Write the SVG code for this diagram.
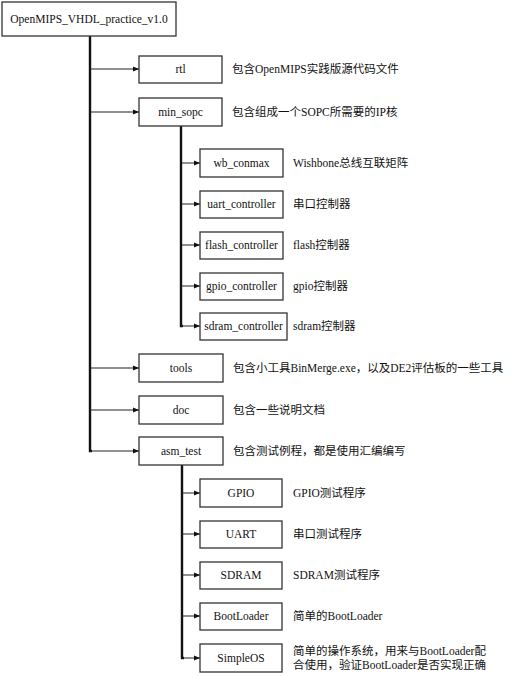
<svg xmlns="http://www.w3.org/2000/svg" width="518" height="676" viewBox="0 0 518 676">
<defs>
<marker id="ah" markerWidth="6" markerHeight="6" refX="6" refY="3" orient="auto" markerUnits="userSpaceOnUse">
<path d="M0,0.5 L6,3 L0,5.5 Z" fill="#111"/>
</marker>
<style>
.box{fill:#fff;stroke:#333;stroke-width:1.3}
.lbl{font-family:"Liberation Serif","Noto Sans CJK SC",serif;font-size:11.5px;fill:#111;text-anchor:middle}
.desc{font-family:"Liberation Serif","Noto Sans CJK SC",serif;font-size:11.5px;fill:#111}
.trunk{stroke:#111;stroke-width:2.4;fill:none}
.arr{stroke:#222;stroke-width:1;fill:none;marker-end:url(#ah)}
</style>
</defs>
<rect width="518" height="676" fill="#fff"/>
<g id="connectors">
<path class="trunk" d="M90,36 V451 H92"/>
<path class="trunk" d="M181,126 V326 H183"/>
<path class="trunk" d="M182,465 V658 H184"/>
<line class="arr" x1="90" y1="69" x2="139" y2="69"/>
<line class="arr" x1="90" y1="112" x2="139" y2="112"/>
<line class="arr" x1="90" y1="368" x2="139" y2="368"/>
<line class="arr" x1="90" y1="410" x2="139" y2="410"/>
<line class="arr" x1="90" y1="451" x2="139" y2="451"/>
<line class="arr" x1="181" y1="163" x2="200" y2="163"/>
<line class="arr" x1="181" y1="204" x2="200" y2="204"/>
<line class="arr" x1="181" y1="245" x2="200" y2="245"/>
<line class="arr" x1="181" y1="286" x2="200" y2="286"/>
<line class="arr" x1="181" y1="326" x2="200" y2="326"/>
<line class="arr" x1="182" y1="493" x2="200" y2="493"/>
<line class="arr" x1="182" y1="534" x2="200" y2="534"/>
<line class="arr" x1="182" y1="575" x2="200" y2="575"/>
<line class="arr" x1="182" y1="616" x2="200" y2="616"/>
<line class="arr" x1="182" y1="658" x2="200" y2="658"/>
</g>
<g id="root"><rect class="box" x="2" y="2" width="174" height="34"/><text class="lbl" x="89" y="23">OpenMIPS_VHDL_practice_v1.0</text></g>
<g id="rtl"><rect class="box" x="139" y="56" width="83" height="27"/><text class="lbl" x="180.5" y="73">rtl</text><text class="desc" x="232" y="73">包含OpenMIPS实践版源代码文件</text></g>
<g id="min_sopc"><rect class="box" x="139" y="98" width="83" height="28"/><text class="lbl" x="180.5" y="116">min_sopc</text><text class="desc" x="232" y="116">包含组成一个SOPC所需要的IP核</text></g>
<g id="wb_conmax"><rect class="box" x="200" y="149" width="83" height="28"/><text class="lbl" x="241.5" y="167">wb_conmax</text><text class="desc" x="293" y="167">Wishbone总线互联矩阵</text></g>
<g id="uart_controller"><rect class="box" x="200" y="191" width="83" height="27"/><text class="lbl" x="241.5" y="208">uart_controller</text><text class="desc" x="293" y="208">串口控制器</text></g>
<g id="flash_controller"><rect class="box" x="200" y="232" width="83" height="27"/><text class="lbl" x="241.5" y="249">flash_controller</text><text class="desc" x="293" y="249">flash控制器</text></g>
<g id="gpio_controller"><rect class="box" x="200" y="273" width="83" height="27"/><text class="lbl" x="241.5" y="290">gpio_controller</text><text class="desc" x="293" y="290">gpio控制器</text></g>
<g id="sdram_controller"><rect class="box" x="200" y="313" width="87" height="27"/><text class="lbl" x="243.5" y="330">sdram_controller</text><text class="desc" x="293" y="330">sdram控制器</text></g>
<g id="tools"><rect class="box" x="139" y="354" width="84" height="28"/><text class="lbl" x="181" y="372">tools</text><text class="desc" x="233" y="372">包含小工具BinMerge.exe，以及DE2评估板的一些工具</text></g>
<g id="doc"><rect class="box" x="139" y="396" width="84" height="28"/><text class="lbl" x="181" y="414">doc</text><text class="desc" x="233" y="414">包含一些说明文档</text></g>
<g id="asm_test"><rect class="box" x="139" y="437" width="84" height="28"/><text class="lbl" x="181" y="455">asm_test</text><text class="desc" x="233" y="455">包含测试例程，都是使用汇编编写</text></g>
<g id="GPIO"><rect class="box" x="200" y="479" width="82" height="28"/><text class="lbl" x="241" y="497">GPIO</text><text class="desc" x="293" y="497">GPIO测试程序</text></g>
<g id="UART"><rect class="box" x="200" y="521" width="82" height="27"/><text class="lbl" x="241" y="538">UART</text><text class="desc" x="293" y="538">串口测试程序</text></g>
<g id="SDRAM"><rect class="box" x="200" y="562" width="82" height="27"/><text class="lbl" x="241" y="579">SDRAM</text><text class="desc" x="293" y="579">SDRAM测试程序</text></g>
<g id="BootLoader"><rect class="box" x="200" y="603" width="82" height="27"/><text class="lbl" x="241" y="620">BootLoader</text><text class="desc" x="293" y="620">简单的BootLoader</text></g>
<g id="SimpleOS"><rect class="box" x="200" y="644" width="82" height="28"/><text class="lbl" x="241" y="662">SimpleOS</text><text class="desc" x="293" y="655">简单的操作系统，用来与BootLoader配</text><text class="desc" x="293" y="669">合使用，验证BootLoader是否实现正确</text></g>
</svg>
